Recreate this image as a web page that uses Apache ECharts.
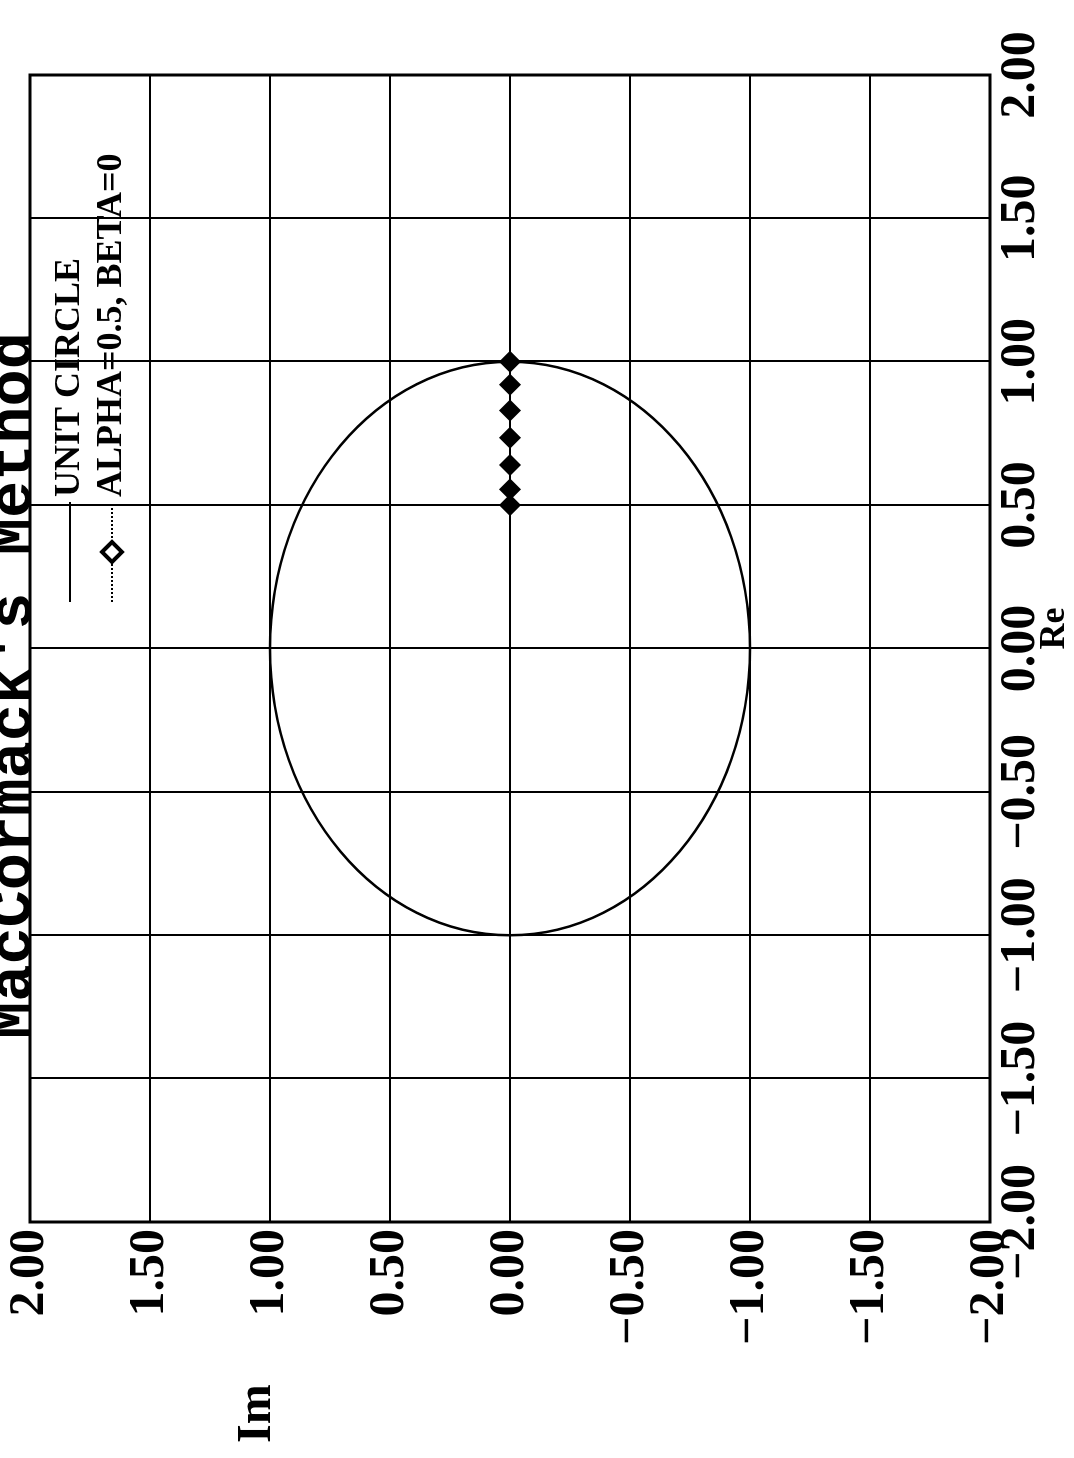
<!DOCTYPE html>
<html>
<head>
<meta charset="utf-8">
<script src="https://cdn.jsdelivr.net/npm/echarts@6/dist/echarts.min.js"></script>
<style>
html,body{margin:0;padding:0;background:#fff;overflow:hidden;width:1074px;height:1458px;}
#chart{position:absolute;left:0;top:0;width:1458px;height:1074px;transform-origin:0 0;transform:translateY(1458px) rotate(-90deg);background:#fff;}
</style>
</head>
<body>
<div id="chart"></div>
<script>
// ---- data ----
const titleText = "MacCormack's Method";
const xAxisName = 'Re';
const yAxisName = 'Im';
const reTickLabels = ['\u22122.00', '\u22121.50', '\u22121.00', '\u22120.50', '0.00', '0.50', '1.00', '1.50', '2.00'];
const imTickLabels = ['\u22122.00', '\u22121.50', '\u22121.00', '\u22120.50', '0.00', '0.50', '1.00', '1.50', '2.00'];
const seriesNames = ['UNIT CIRCLE', 'ALPHA=0.5, BETA=0'];
// unit circle: centre (Re, Im) and radius
const circleCentreRe = [0];
const circleCentreIm = [0];
const circleRadius = [1];
// eigenvalue points
const alphaRe = [1.0, 0.92, 0.83, 0.735, 0.64, 0.555, 0.5];
const alphaIm = [0, 0, 0, 0, 0, 0, 0];

// ---- chart ----
const AX_MIN = -2, AX_MAX = 2, AX_STEP = 0.5;
const serifFont = 'Liberation Serif';
const monoFont = 'Liberation Mono';

const chart = echarts.init(document.getElementById('chart'), null, {renderer: 'canvas'});

const circleData = circleCentreRe.map((r, i) => [r, circleCentreIm[i], circleRadius[i]]);
const alphaData = alphaRe.map((r, i) => [r, alphaIm[i]]);

chart.setOption({
  backgroundColor: '#fff',
  animation: false,
  title: {
    text: titleText,
    left: 414,
    top: -22,
    textStyle: {fontFamily: monoFont, fontWeight: 'bold', fontSize: 62, color: '#000'}
  },
  legend: {
    orient: 'vertical',
    left: 855,
    top: 52,
    padding: 0,
    itemWidth: 100,
    itemHeight: 25,
    itemGap: 6,
    textStyle: {fontFamily: serifFont, fontWeight: 'bold', fontSize: 36, color: '#000'},
    data: [
      {name: seriesNames[0], icon: 'path://M0,0L0,0M0,11.5L100,11.5L100,13.5L0,13.5ZM100,25L100,25'},
      {name: seriesNames[1], itemStyle: {color: '#fff', borderColor: '#000', borderWidth: 4}}
    ]
  },
  grid: {
    left: 236, right: 75, top: 30, bottom: 84,
    show: true, borderColor: '#000', borderWidth: 3,
    containLabel: false, outerBoundsMode: 'none'
  },
  xAxis: {
    type: 'value', min: AX_MIN, max: AX_MAX, interval: AX_STEP,
    name: xAxisName, nameLocation: 'middle', nameGap: 47, nameMoveOverlap: false,
    nameTextStyle: {fontFamily: serifFont, fontWeight: 'bold', fontSize: 36, color: '#000', padding: [0, 0, 0, 40]},
    axisLine: {show: false}, axisTick: {show: false},
    splitLine: {show: true, lineStyle: {color: '#000', width: 2}},
    axisLabel: {
      margin: 6, showMinLabel: true, showMaxLabel: true,
      fontFamily: serifFont, fontWeight: 'bold', fontSize: 50, color: '#000',
      formatter: v => reTickLabels[Math.round((v - AX_MIN) / AX_STEP)]
    }
  },
  yAxis: {
    type: 'value', min: AX_MIN, max: AX_MAX, interval: AX_STEP,
    axisLine: {show: false}, axisTick: {show: false},
    splitLine: {show: true, lineStyle: {color: '#000', width: 2}},
    axisLabel: {
      margin: 7, showMinLabel: true, showMaxLabel: true,
      fontFamily: serifFont, fontWeight: 'bold', fontSize: 50, color: '#000',
      formatter: v => imTickLabels[Math.round((v - AX_MIN) / AX_STEP)]
    }
  },
  graphic: [{
    type: 'text', left: 15, top: 234,
    style: {text: yAxisName, font: 'bold 48px "Liberation Serif"', fill: '#000'}
  }],
  series: [
    {
      name: seriesNames[0],
      type: 'custom',
      data: circleData,
      itemStyle: {color: '#000'},
      renderItem: function (params, api) {
        const c = api.coord([api.value(0), api.value(1)]);
        const s = api.size([api.value(2), api.value(2)]);
        return {
          type: 'ellipse',
          shape: {cx: c[0], cy: c[1], rx: s[0], ry: s[1]},
          style: {fill: 'none', stroke: '#000', lineWidth: 2.5}
        };
      },
      z: 3
    },
    {
      name: seriesNames[1],
      type: 'line',
      data: alphaData,
      symbol: 'diamond',
      symbolSize: 22,
      showSymbol: true,
      lineStyle: {type: 'dotted', width: 2, color: '#000'},
      itemStyle: {color: '#000'},
      z: 4
    }
  ]
});
</script>
</body>
</html>
